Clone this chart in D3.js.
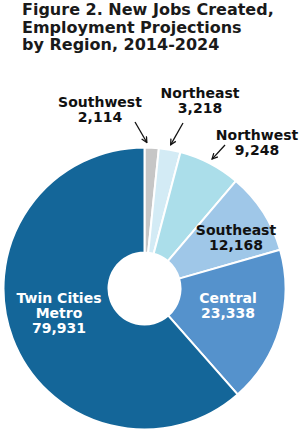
<!DOCTYPE html>
<html>
<head>
<meta charset="utf-8">
<script src="https://cdn.jsdelivr.net/npm/d3@7"></script>
<style>
  body { margin: 0; background: #fff; }
  svg { display: block; font-family: Verdana, "DejaVu Sans", sans-serif; font-weight: bold; }
</style>
</head>
<body>
<div id="chart"></div>
<script>
// data
const regions = ["Southwest", "Northeast", "Northwest", "Southeast", "Central", "Twin Cities Metro"];
const jobs = [2114, 3218, 9248, 12168, 23338, 79931];
const labelLines = [["Southwest"], ["Northeast"], ["Northwest"], ["Southeast"], ["Central"], ["Twin Cities", "Metro"]];
const titleLines = ["Figure 2. New Jobs Created,", "Employment Projections", "by Region, 2014-2024"];

const colors = ["#c6c6c6", "#d3ebf5", "#abdeea", "#9fc7e8", "#5592cc", "#146699"];

// label placement relative to pie center (first baseline), arrows for small slices
const layout = [
  { dx: -44.5, dy: -181.5, fill: "#111", arrow: { dx: -9.5, dy: -166.5 }, tipAngle: -2 },
  { dx: 55.5, dy: -190.5, fill: "#111", arrow: { dx: 38.5, dy: -165.5 } },
  { dx: 112.5, dy: -148.5, fill: "#111", arrow: { dx: 80.5, dy: -143.5 } },
  { dx: 91.5, dy: -53.5, fill: "#111" },
  { dx: 83.5, dy: 14.5, fill: "#fff" },
  { dx: -85.5, dy: 14.5, fill: "#fff" },
];

const W = 300, H = 431;
const cx = 144.5, cy = 288.5;
const outerR = 141, innerR = 36;

const svg = d3.select("#chart").append("svg")
  .attr("width", W)
  .attr("height", H);

svg.append("defs").append("marker")
  .attr("id", "arrowhead")
  .attr("viewBox", "0 0 10 10")
  .attr("refX", 9)
  .attr("refY", 5)
  .attr("markerWidth", 7)
  .attr("markerHeight", 7)
  .attr("markerUnits", "userSpaceOnUse")
  .attr("orient", "auto")
  .append("path")
  .attr("d", "M1,1 L9,5 L1,9")
  .attr("fill", "none")
  .attr("stroke", "#111")
  .attr("stroke-width", 1.8);

// title
svg.append("text")
  .attr("x", 22)
  .attr("y", 15)
  .attr("fill", "#1a1a1a")
  .style("font-size", "16px")
  .selectAll("tspan")
  .data(titleLines)
  .join("tspan")
  .attr("x", 22)
  .attr("dy", (d, i) => (i === 0 ? 0 : 17.5))
  .text((d) => d);

const data = regions.map((r, i) => ({ region: r, value: jobs[i], i }));

const pie = d3.pie()
  .value((d) => d.value)
  .sort(null);

const arc = d3.arc()
  .innerRadius(innerR)
  .outerRadius(outerR);

const arcs = pie(data);

const g = svg.append("g").attr("transform", `translate(${cx},${cy})`);

g.selectAll("path.slice")
  .data(arcs)
  .join("path")
  .attr("class", "slice")
  .attr("d", arc)
  .attr("fill", (d) => colors[d.index])
  .attr("stroke", "#fff")
  .attr("stroke-width", 2)
  .attr("stroke-linejoin", "round");

// arrows for small slices
const tip = (d, f) => {
  const a = (d.startAngle + d.endAngle) / 2 + ((layout[d.index].tipAngle || 0) * Math.PI) / 180;
  return f(a) * (outerR + 5);
};

g.selectAll("line.arrow")
  .data(arcs.filter((d) => layout[d.index].arrow))
  .join("line")
  .attr("class", "arrow")
  .attr("x1", (d) => layout[d.index].arrow.dx)
  .attr("y1", (d) => layout[d.index].arrow.dy)
  .attr("x2", (d) => tip(d, Math.sin))
  .attr("y2", (d) => -tip(d, Math.cos))
  .attr("stroke", "#111")
  .attr("stroke-width", 1.3)
  .attr("marker-end", "url(#arrowhead)");

// labels
const fmt = d3.format(",");
g.selectAll("text.label")
  .data(arcs)
  .join("text")
  .attr("class", "label")
  .attr("text-anchor", "middle")
  .attr("fill", (d) => layout[d.index].fill)
  .style("font-size", "14px")
  .each(function (d) {
    const L = layout[d.index];
    const lines = labelLines[d.index].concat([fmt(d.data.value)]);
    d3.select(this)
      .selectAll("tspan")
      .data(lines)
      .join("tspan")
      .attr("x", L.dx)
      .attr("y", (t, i) => L.dy + i * 15)
      .text((t) => t);
  });
</script>
</body>
</html>
